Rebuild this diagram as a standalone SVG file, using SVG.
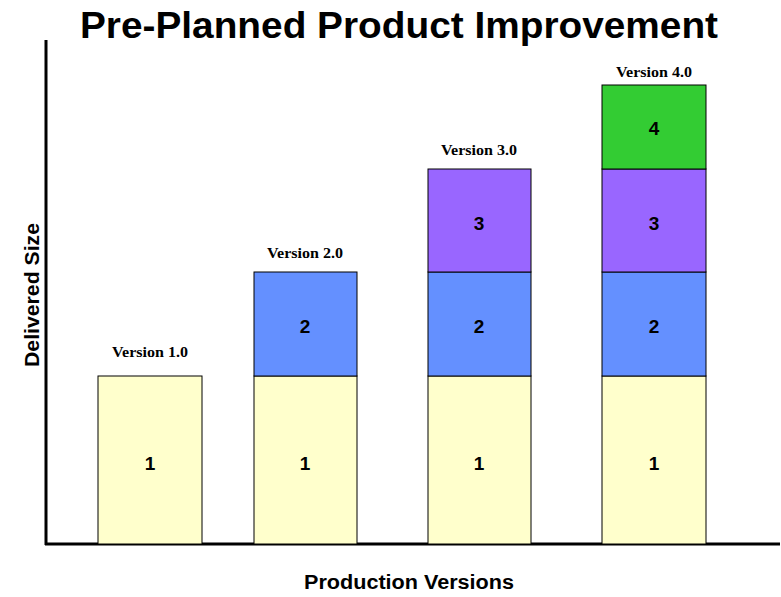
<svg xmlns="http://www.w3.org/2000/svg" width="781" height="597" viewBox="0 0 781 597">
<style>
.seg{stroke:#000;stroke-width:1}
.s1{fill:#FFFFCC}.s2{fill:#6490FF}.s3{fill:#9966FF}.s4{fill:#33CC33}
.num{font-family:"Liberation Sans",Arial,sans-serif;font-weight:bold;font-size:19px;text-anchor:middle}
.ver{font-family:"Liberation Serif","Times New Roman",serif;font-weight:bold;font-size:15px;text-anchor:middle}
.ax{font-family:"Liberation Sans",Arial,sans-serif;font-weight:bold;font-size:20px;text-anchor:middle}
</style>
<rect width="781" height="597" fill="#fff"/>
<text x="399" y="38" font-family="'Liberation Sans',Arial,sans-serif" font-weight="bold" font-size="36" text-anchor="middle" textLength="638" lengthAdjust="spacingAndGlyphs">Pre-Planned Product Improvement</text>
<g id="axes">
<line x1="46" y1="40" x2="46" y2="545" stroke="#000" stroke-width="3"/>
<line x1="45" y1="544" x2="780" y2="544" stroke="#000" stroke-width="3"/>
</g>
<text class="ax" x="409" y="589" textLength="210" lengthAdjust="spacingAndGlyphs">Production Versions</text>
<text class="ax" transform="translate(39,295) rotate(-90)" textLength="144" lengthAdjust="spacingAndGlyphs">Delivered Size</text>
<g id="v1">
<rect class="seg s1" x="98" y="376" width="104" height="168"/>
<text class="num" x="150" y="470">1</text>
<text class="ver" x="150" y="357" textLength="76" lengthAdjust="spacingAndGlyphs">Version 1.0</text>
</g>
<g id="v2">
<rect class="seg s1" x="254" y="376" width="103" height="168"/>
<rect class="seg s2" x="254" y="272" width="103" height="104"/>
<text class="num" x="305" y="470">1</text>
<text class="num" x="305" y="333">2</text>
<text class="ver" x="305" y="258" textLength="76" lengthAdjust="spacingAndGlyphs">Version 2.0</text>
</g>
<g id="v3">
<rect class="seg s1" x="428" y="376" width="103" height="168"/>
<rect class="seg s2" x="428" y="272" width="103" height="104"/>
<rect class="seg s3" x="428" y="169" width="103" height="103"/>
<text class="num" x="479" y="470">1</text>
<text class="num" x="479" y="333">2</text>
<text class="num" x="479" y="230">3</text>
<text class="ver" x="479" y="155" textLength="76" lengthAdjust="spacingAndGlyphs">Version 3.0</text>
</g>
<g id="v4">
<rect class="seg s1" x="602" y="376" width="104" height="168"/>
<rect class="seg s2" x="602" y="272" width="104" height="104"/>
<rect class="seg s3" x="602" y="169" width="104" height="103"/>
<rect class="seg s4" x="602" y="85" width="104" height="84"/>
<text class="num" x="654" y="470">1</text>
<text class="num" x="654" y="333">2</text>
<text class="num" x="654" y="230">3</text>
<text class="num" x="654" y="135">4</text>
<text class="ver" x="654" y="77" textLength="76" lengthAdjust="spacingAndGlyphs">Version 4.0</text>
</g>
</svg>
